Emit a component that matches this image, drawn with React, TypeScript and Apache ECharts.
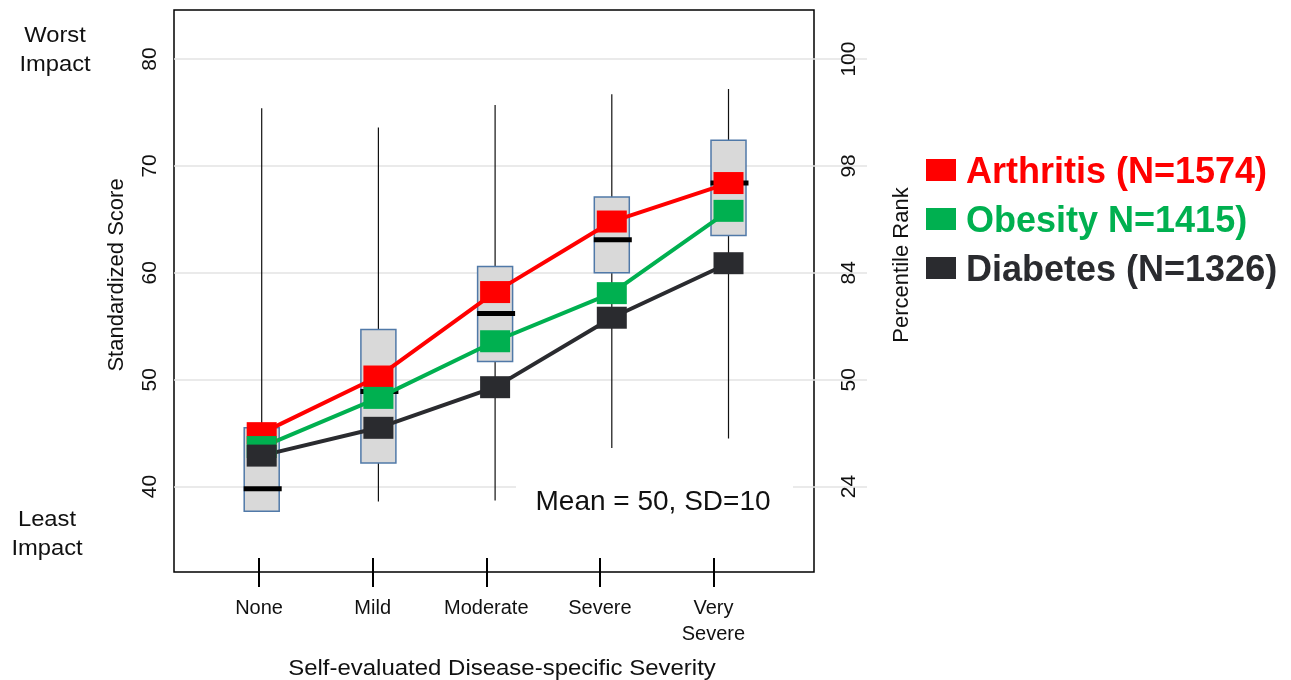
import React, { useEffect, useRef } from 'react';
import * as echarts from 'echarts';

const categories = ['None', 'Mild', 'Moderate', 'Severe', 'Very\nSevere'];
const boxMin = [37.7, 38.6, 38.7, 43.6, 44.5];
const boxQ1 = [37.7, 42.2, 51.7, 60.0, 63.5];
const boxMedian = [39.8, 48.9, 56.2, 63.1, 68.4];
const boxQ3 = [45.5, 54.7, 60.6, 67.1, 72.4];
const boxMax = [75.4, 73.6, 75.7, 76.7, 77.2];

const arthritis = [45.0, 50.3, 58.2, 64.8, 68.4];
const obesity = [43.7, 48.3, 53.6, 58.1, 65.8];
const diabetes = [42.9, 45.5, 49.3, 55.8, 60.9];

const scoreTicks = [40, 50, 60, 70, 80];
const percentileLabels = ['24', '50', '84', '98', '100'];

const seriesNames = ['Arthritis (N=1574)', 'Obesity N=1415)', 'Diabetes (N=1326)'];
const seriesColors = ['#ff0000', '#00b050', '#2a2b2f'];

const FONT = "'Liberation Sans', Arial, sans-serif";

export default function App() {
  const ref = useRef<HTMLDivElement>(null);
  useEffect(() => {
    document.body.style.margin = '0';
    const chart = echarts.init(ref.current!, null, { renderer: 'svg' });
    const idx = categories.map((_, i) => i);
    const boxData = idx.map((i) => [i, boxMin[i], boxQ1[i], boxMedian[i], boxQ3[i], boxMax[i]]);
    const lineData = [arthritis, obesity, diabetes];

    const option: any = {
      animation: false,
      grid: {
        left: 174, top: 10, width: 640, height: 562, show: true,
        borderColor: '#000', borderWidth: 1.5, backgroundColor: 'rgba(0,0,0,0)',
      },
      xAxis: [
        {
          type: 'value', min: -0.749, max: 4.885, position: 'bottom',
          axisLine: { show: false, onZero: false }, splitLine: { show: false },
          axisTick: { show: true, customValues: idx, length: 15, lineStyle: { color: '#000', width: 2 } },
          axisLabel: {
            customValues: idx, formatter: (v: number) => categories[v],
            fontSize: 20, lineHeight: 26, margin: 22, color: '#111', fontFamily: FONT,
          },
        },
        { type: 'value', min: -0.7515, max: 4.7326, show: false, axisLine: { onZero: false } },
        {
          type: 'value', min: -0.749, max: 4.885, position: 'bottom',
          axisLine: { show: false, onZero: false }, splitLine: { show: false }, axisLabel: { show: false },
          axisTick: { show: true, inside: true, customValues: idx, length: 14, lineStyle: { color: '#000', width: 2 } },
        },
      ],
      yAxis: [
        {
          type: 'value', min: 32.01, max: 84.59, position: 'left',
          axisLine: { show: false, onZero: false },
          axisTick: { show: false, customValues: scoreTicks },
          axisLabel: { customValues: scoreTicks, rotate: 90, fontSize: 21, margin: 15, color: '#111', fontFamily: FONT },
          splitLine: { show: true, lineStyle: { color: '#e3e3e3', width: 1.5 } },
        },
        {
          type: 'value', min: 32.01, max: 84.59, position: 'right',
          axisLine: { show: false, onZero: false },
          splitLine: { show: false },
          axisTick: { show: true, inside: false, customValues: scoreTicks, length: 53, lineStyle: { color: '#e3e3e3', width: 1.5 } },
          axisLabel: {
            show: true, customValues: scoreTicks, rotate: 90,
            formatter: (v: number) => percentileLabels[scoreTicks.indexOf(v)],
            fontSize: 21, margin: 23, color: '#111', fontFamily: FONT,
          },
        },
      ],
      legend: {
        orient: 'vertical', left: 926, top: 152, padding: 0, itemWidth: 30, itemHeight: 22, itemGap: 13,
        icon: 'rect', selectedMode: false,
        data: seriesNames.map((n, i) => ({ name: n, textStyle: { color: seriesColors[i] } })),
        textStyle: { fontSize: 36, fontWeight: 'bold', fontFamily: FONT, padding: [0, 0, 0, 5] },
      },
      series: [
        {
          type: 'custom', name: 'box', xAxisIndex: 1, yAxisIndex: 0, z: 2,
          data: boxData,
          encode: { x: 0, y: [1, 2, 3, 4, 5] },
          renderItem: (params: any, api: any) => {
            const x = api.value(0);
            const pMin = api.coord([x, api.value(1)]);
            const pQ1 = api.coord([x, api.value(2)]);
            const pMed = api.coord([x, api.value(3)]);
            const pQ3 = api.coord([x, api.value(4)]);
            const pMax = api.coord([x, api.value(5)]);
            const cx = pMin[0];
            const hw = 17.5;
            return {
              type: 'group',
              children: [
                { type: 'line', shape: { x1: cx, y1: pMax[1], x2: cx, y2: pMin[1] }, style: { stroke: '#111', lineWidth: 1.2 } },
                { type: 'rect', shape: { x: cx - hw, y: pQ3[1], width: 2 * hw, height: pQ1[1] - pQ3[1] }, style: { fill: '#d9d9d9', stroke: '#5079a8', lineWidth: 1.5 } },
                { type: 'line', shape: { x1: cx - hw - 0.5, y1: pMed[1], x2: cx + hw + 2.5, y2: pMed[1] }, style: { stroke: '#000', lineWidth: 5 } },
              ],
            };
          },
        },
        ...seriesNames.map((n, s) => ({
          type: 'line', name: n, xAxisIndex: 1, yAxisIndex: 0, z: 3,
          data: idx.map((i) => [i, lineData[s][i]]),
          symbol: 'rect', symbolSize: [30, 22],
          itemStyle: { color: seriesColors[s] },
          lineStyle: { color: seriesColors[s], width: 4 },
        })),
      ],
      graphic: [
        { type: 'rect', z: 1, shape: { x: 516, y: 466, width: 277, height: 68 }, style: { fill: '#fff' } },
        { type: 'text', z: 5, x: 653, y: 500.5, style: { text: 'Mean = 50, SD=10', fontSize: 28, fontFamily: FONT, fill: '#111', textAlign: 'center', textVerticalAlign: 'middle' } },
        { type: 'text', z: 5, x: 55, y: 49, scaleX: 1.08, style: { text: 'Worst\nImpact', fontSize: 22, lineHeight: 29, fontFamily: FONT, fill: '#111', textAlign: 'center', textVerticalAlign: 'middle' } },
        { type: 'text', z: 5, x: 47, y: 532.5, scaleX: 1.08, style: { text: 'Least\nImpact', fontSize: 22, lineHeight: 29, fontFamily: FONT, fill: '#111', textAlign: 'center', textVerticalAlign: 'middle' } },
        { type: 'text', z: 5, x: 115, y: 275, rotation: Math.PI / 2, style: { text: 'Standardized Score', fontSize: 22, fontFamily: FONT, fill: '#111', textAlign: 'center', textVerticalAlign: 'middle' } },
        { type: 'text', z: 5, x: 900, y: 265, rotation: Math.PI / 2, style: { text: 'Percentile Rank', fontSize: 22, fontFamily: FONT, fill: '#111', textAlign: 'center', textVerticalAlign: 'middle' } },
        { type: 'text', z: 5, x: 502, y: 667, scaleX: 1.09, style: { text: 'Self-evaluated Disease-specific Severity', fontSize: 22, fontFamily: FONT, fill: '#111', textAlign: 'center', textVerticalAlign: 'middle' } },
      ],
    };
    chart.setOption(option);
    return () => chart.dispose();
  }, []);
  return <div ref={ref} style={{ position: 'fixed', left: 0, top: 0, width: 1291, height: 680 }} />;
}
